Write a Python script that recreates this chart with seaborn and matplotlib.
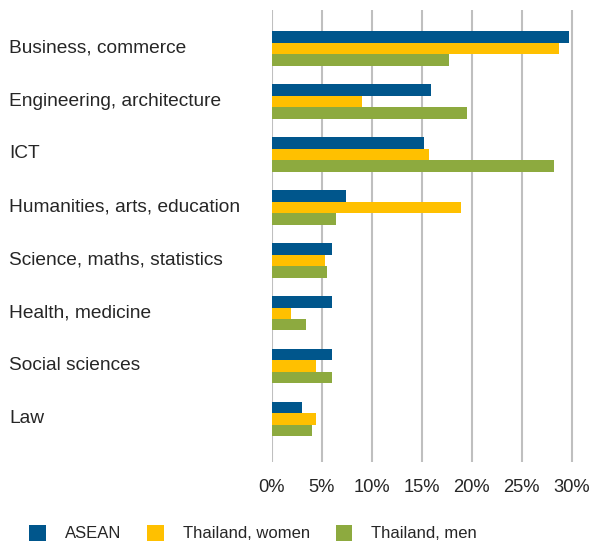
import pandas as pd
import matplotlib.pyplot as plt
import matplotlib.transforms as mtransforms
import seaborn as sns

# -----------------------------
# DATA (share of graduates by field, %)
# -----------------------------

fields = [
    "Business, commerce",
    "Engineering, architecture",
    "ICT",
    "Humanities, arts, education",
    "Science, maths, statistics",
    "Health, medicine",
    "Social sciences",
    "Law",
]
groups = ["ASEAN", "Thailand, women", "Thailand, men"]

asean = [29.7, 15.9, 15.2, 7.4, 6.0, 6.0, 6.0, 3.0]
thai_women = [28.7, 9.0, 15.7, 18.9, 5.3, 1.9, 4.4, 4.4]
thai_men = [17.7, 19.5, 28.2, 6.4, 5.5, 3.4, 6.0, 4.0]

tick_vals = [0, 5, 10, 15, 20, 25, 30]
tick_labels = ["0%", "5%", "10%", "15%", "20%", "25%", "30%"]

colors = {"ASEAN": "#00568C", "Thailand, women": "#FFC000", "Thailand, men": "#8DAA3F"}

df = pd.DataFrame({
    "field": fields * 3,
    "group": [groups[0]] * 8 + [groups[1]] * 8 + [groups[2]] * 8,
    "value": asean + thai_women + thai_men,
})

# -----------------------------
# PLOT
# -----------------------------

sns.set_style("white")
plt.rcParams["font.family"] = ["Liberation Sans", "DejaVu Sans"]
text_color = "#262626"

fig = plt.figure(figsize=(5.92, 5.47), dpi=100)
ax = fig.add_axes([271.5 / 592, 1 - 462 / 547, 302.5 / 592, 452 / 547])

sns.barplot(
    data=df,
    x="value",
    y="field",
    hue="group",
    hue_order=groups,
    order=fields,
    palette=colors,
    orient="h",
    width=0.65,
    saturation=1,
    linewidth=0,
    ax=ax,
)

handles, labels = ax.get_legend_handles_labels()
ax.get_legend().remove()

ax.set_xlim(0, 30.25)
ax.set_ylim(7.81, -0.73)
ax.set_xticks(tick_vals)
ax.set_xticklabels(tick_labels, fontsize=13.2, color=text_color)
ax.set_xlabel("")
ax.set_ylabel("")

ax.grid(axis="x", color="#BFBFBF", linewidth=1.5)
ax.grid(axis="y", visible=False)
ax.set_axisbelow(True)
for s in ax.spines.values():
    s.set_visible(False)

ax.tick_params(axis="x", length=0, pad=12)
ax.tick_params(axis="y", length=0, pad=189)

shift = mtransforms.ScaledTranslation(0, 2.5 / 100, fig.dpi_scale_trans)
for lbl in ax.get_yticklabels():
    lbl.set_horizontalalignment("left")
    lbl.set_fontsize(13.8)
    lbl.set_color(text_color)
    lbl.set_transform(lbl.get_transform() + shift)

fig.legend(
    handles,
    labels,
    loc="center left",
    bbox_to_anchor=(29 / 592, 1 - 533 / 547),
    ncol=3,
    frameon=False,
    fontsize=12,
    labelcolor=text_color,
    handlelength=1.0,
    handleheight=1.14,
    handletextpad=1.14,
    columnspacing=1.55,
    borderpad=0,
    borderaxespad=0,
)

plt.savefig("out.png", dpi=100)
